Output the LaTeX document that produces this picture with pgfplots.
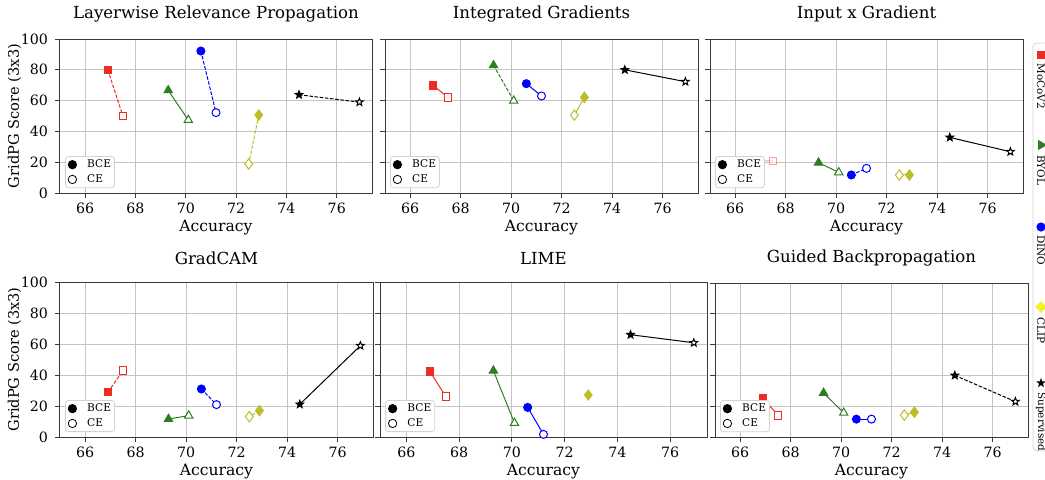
\documentclass[border=0pt]{standalone}
\usepackage{pgfplots}
\pgfplotsset{compat=1.18}
\usepackage{fontspec}
\setmainfont{DejaVu Serif}
\usetikzlibrary{shapes.geometric}
\definecolor{cMoco}{HTML}{EE2C24}
\definecolor{cByol}{HTML}{2E7D22}
\definecolor{cDino}{HTML}{0000FF}
\definecolor{cClip}{HTML}{BDBD2A}
\definecolor{cClipLeg}{HTML}{F5F02A}
\definecolor{gridgray}{HTML}{C4C4C4}
\definecolor{framegray}{HTML}{3A3A3A}

% filled 5-point star mark
\pgfdeclareplotmark{starf}{%
  \pgfpathmoveto{\pgfpointpolar{90}{\pgfplotmarksize}}%
  \pgfpathlineto{\pgfpointpolar{126}{0.42\pgfplotmarksize}}%
  \pgfpathlineto{\pgfpointpolar{162}{\pgfplotmarksize}}%
  \pgfpathlineto{\pgfpointpolar{198}{0.42\pgfplotmarksize}}%
  \pgfpathlineto{\pgfpointpolar{234}{\pgfplotmarksize}}%
  \pgfpathlineto{\pgfpointpolar{270}{0.42\pgfplotmarksize}}%
  \pgfpathlineto{\pgfpointpolar{306}{\pgfplotmarksize}}%
  \pgfpathlineto{\pgfpointpolar{342}{0.42\pgfplotmarksize}}%
  \pgfpathlineto{\pgfpointpolar{18}{\pgfplotmarksize}}%
  \pgfpathlineto{\pgfpointpolar{54}{0.42\pgfplotmarksize}}%
  \pgfpathclose\pgfusepathqfillstroke}

\tikzset{
  msq/.style={mark=square*, mark size=1.9pt},
  mtri/.style={mark=triangle*, mark size=2.4pt},
  mcir/.style={mark=*, mark size=2pt},
  mdia/.style={mark=diamond*, mark size=2.6pt},
  mstar/.style={mark=starf, mark size=2pt},
  dsh/.style={dash pattern=on 1.8pt off 0.8pt},
}

% [extra]{colour}{mark}{line style}{x BCE}{y BCE}{x CE}{y CE}
\newcommand{\pair}[8][]{%
  \addplot[forget plot, draw=#2, #4, line width=0.5pt, #1] coordinates {(#5,#6) (#7,#8)};
  \addplot[forget plot, only marks, #3, mark options={solid, draw=#2, fill=#2, line width=0.5pt}, #1] coordinates {(#5,#6)};
  \addplot[forget plot, only marks, #3, mark options={solid, draw=#2, fill=white, line width=0.5pt}, #1] coordinates {(#7,#8)};
}

\pgfplotsset{
  panel/.style={
    scale only axis, anchor=south west,
    xmin=65, xmax=77.4, ymin=0, ymax=100,
    xtick={66,68,...,76}, ytick={0,20,...,100},
    grid=major, grid style={line width=0.45pt, draw=gridgray},
    axis line style={draw=framegray, line width=0.5pt},
    tick align=outside, tick pos=left, major tick length=2.5pt,
    tick style={draw=framegray, line width=0.45pt},
    ticklabel style={font=\fontsize{7.1}{8}\selectfont},
    xticklabel style={yshift=1.2pt},
    /pgf/number format/assume math mode=true,
    xlabel={Accuracy}, xlabel style={font=\fontsize{7.8}{9}\selectfont, yshift=3.5pt},
    ylabel style={font=\fontsize{7.3}{9}\selectfont, yshift=-7pt},
    title style={font=\fontsize{8.3}{10}\selectfont, yshift=-1pt},
    legend style={at={(0.016,0.032)}, anchor=south west, font=\fontsize{5.3}{6}\selectfont,
      draw=gray!35, fill=white,
      rounded corners=1.5pt, inner sep=1.4pt, row sep=2pt,
      nodes={inner sep=0.3pt, text height=3.8pt, text depth=1pt},
      /tikz/every odd column/.append style={column sep=5pt}},
    legend image code/.code={\draw[#1] (0.2cm,0cm) -- plot coordinates {(0.2cm,0cm)};},
    legend cell align=left,
  },
  noy/.style={yticklabels={}},
}
\newcommand{\bcece}{%
  \addlegendimage{only marks, mark=*, mark size=2.1pt, black}
  \addlegendentry{BCE}
  \addlegendimage{only marks, mark=o, mark size=2.1pt, black}
  \addlegendentry{CE}
}

\begin{document}
\begin{tikzpicture}
\useasboundingbox (0,0) rectangle (522.5pt,239.5pt);

% ---- top row ----
\begin{axis}[panel, at={(30pt,143pt)}, width=156pt, height=77pt,
  title={Layerwise Relevance Propagation}, ylabel={GridPG Score (3x3)}]
\bcece
\pair{cMoco}{msq}{dsh}{66.9}{80}{67.5}{50}
\pair{cByol}{mtri}{solid}{69.3}{66.7}{70.1}{47.4}
\pair{cDino}{mcir}{dsh}{70.6}{92.2}{71.2}{52.2}
\pair{cClip}{mdia}{dsh}{72.9}{50.6}{72.5}{18.8}
\pair{black}{mstar}{dsh}{74.5}{63.8}{76.9}{59}
\end{axis}

\begin{axis}[panel, noy, at={(192.5pt,143pt)}, width=156.5pt, height=77pt,
  title={Integrated Gradients}]
\bcece
\pair{cMoco}{msq}{solid}{66.9}{69.9}{67.5}{62.1}
\pair{cByol}{mtri}{dsh}{69.3}{82.9}{70.1}{59.9}
\pair{cDino}{mcir}{solid}{70.6}{71}{71.2}{63}
\pair{cClip}{mdia}{solid}{72.9}{62.1}{72.5}{50.6}
\pair{black}{mstar}{solid}{74.5}{80}{76.9}{72.3}
\end{axis}

\begin{axis}[panel, noy, at={(355pt,143pt)}, width=156.5pt, height=77pt,
  title={Input x Gradient}]
\bcece
\pair[opacity=0.45]{cMoco}{msq}{solid}{66.9}{21}{67.5}{20.8}
\pair{cByol}{mtri}{solid}{69.3}{19.7}{70.1}{13.4}
\pair{cDino}{mcir}{dsh}{70.6}{11.7}{71.2}{16}
\pair{cClip}{mdia}{solid}{72.9}{11.7}{72.5}{11.7}
\pair{black}{mstar}{solid}{74.5}{36.1}{76.9}{26.8}
\end{axis}

% ---- bottom row ----
\begin{axis}[panel, at={(30pt,21pt)}, width=156.5pt, height=77.5pt,
  title={GradCAM}, ylabel={GridPG Score (3x3)}]
\bcece
\pair{cMoco}{msq}{dsh}{66.9}{29}{67.5}{43}
\pair{cByol}{mtri}{solid}{69.3}{11.6}{70.1}{13.8}
\pair{cDino}{mcir}{dsh}{70.6}{31}{71.2}{20.9}
\pair{cClip}{mdia}{dsh}{72.9}{17}{72.5}{13.1}
\pair{black}{mstar}{solid}{74.5}{21.1}{76.9}{58.9}
\end{axis}

\begin{axis}[panel, noy, at={(190pt,21pt)}, width=163.5pt, height=77.5pt,
  title={LIME}]
\bcece
\pair{cMoco}{msq}{solid}{66.9}{42.1}{67.5}{26}
\pair{cByol}{mtri}{solid}{69.3}{42.8}{70.1}{9}
\pair{cDino}{mcir}{solid}{70.6}{19.1}{71.2}{1.7}
\addplot[forget plot, only marks, mdia, mark options={draw=cClip, fill=cClip}] coordinates {(72.9,27.1)};
\pair{black}{mstar}{solid}{74.5}{66}{76.9}{60.8}
\end{axis}

\begin{axis}[panel, noy, at={(357.5pt,21pt)}, width=156.5pt, height=77pt,
  title={Guided Backpropagation}]
\bcece
\pair{cMoco}{msq}{solid}{66.9}{25.2}{67.5}{14}
\pair{cByol}{mtri}{solid}{69.3}{28.6}{70.1}{15.7}
\pair{cDino}{mcir}{solid}{70.6}{11.6}{71.2}{11.6}
\pair{cClip}{mdia}{solid}{72.9}{16.1}{72.5}{14.2}
\pair{black}{mstar}{dsh}{74.5}{40}{76.9}{23}
\end{axis}

% ---- shared legend on the right, partly cut off by the page edge ----
\draw[gray!35, fill=white, rounded corners=2pt] (516.5pt,14pt) rectangle (535pt,218pt);
\begin{scope}[every node/.style={inner sep=0pt}]
\node[fill=cMoco, minimum size=4.2pt] at (520.5pt,212pt) {};
\node[rotate=-90, anchor=west, font=\fontsize{5.2}{6}\selectfont] at (520.5pt,208pt) {MoCoV2};
\node[fill=cByol, regular polygon, regular polygon sides=3, minimum size=6pt, rotate=-90] at (520.5pt,167pt) {};
\node[rotate=-90, anchor=west, font=\fontsize{5.2}{6}\selectfont] at (520.5pt,162pt) {BYOL};
\node[fill=cDino, circle, minimum size=4.6pt] at (520.5pt,126pt) {};
\node[rotate=-90, anchor=west, font=\fontsize{5.2}{6}\selectfont] at (520.5pt,122pt) {DINO};
\node[fill=cClipLeg, diamond, minimum size=6pt] at (520.5pt,86pt) {};
\node[rotate=-90, anchor=west, font=\fontsize{5.2}{6}\selectfont] at (520.5pt,81pt) {CLIP};
\node[fill=black, star, star points=5, star point ratio=2.4, minimum size=5pt] at (520.5pt,48pt) {};
\node[rotate=-90, anchor=west, font=\fontsize{5.2}{6}\selectfont] at (520.5pt,43.5pt) {Supervised};
\end{scope}
\end{tikzpicture}
\end{document}
